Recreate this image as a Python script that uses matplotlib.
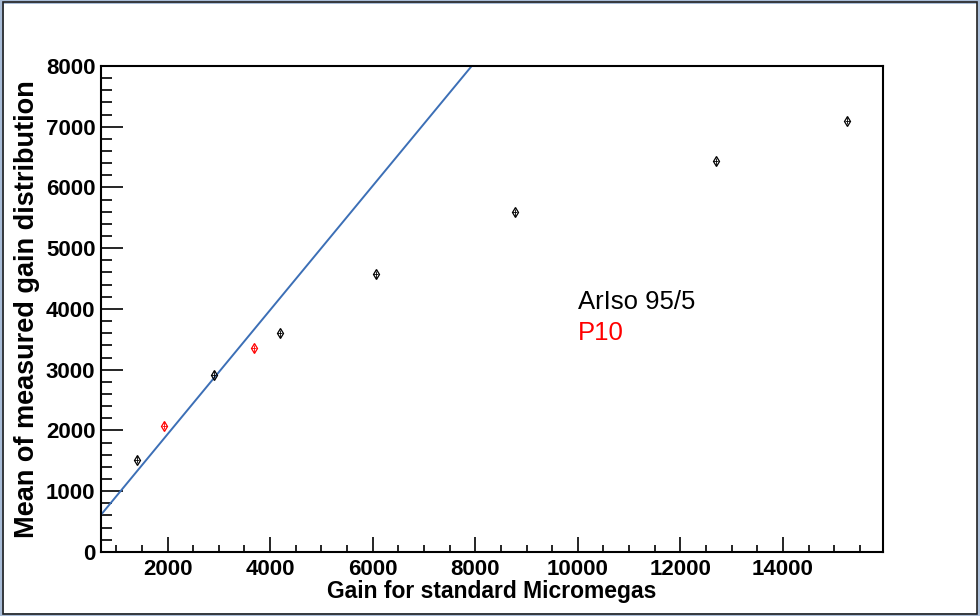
import matplotlib.pyplot as plt
from matplotlib.patches import Rectangle
from matplotlib.ticker import MultipleLocator

plt.rcParams['font.family'] = ['Liberation Sans', 'DejaVu Sans']

# ArIso 95/5 (black) and P10 (red) measurements
ariso_gain = [1400, 2900, 4190, 6060, 8770, 12690, 15250]
ariso_mean = [1520, 2920, 3600, 4570, 5590, 6430, 7100]
p10_gain = [1940, 3680]
p10_mean = [2080, 3350]

# straight line fit
fit_slope = 1.022
fit_offset = -107
fit_range = [700, 8100]

fig = plt.figure(figsize=(9.8, 6.16), dpi=100)
ax = fig.add_axes([0.103, 0.104, 0.798, 0.789])

fit_y = [fit_slope * x + fit_offset for x in fit_range]
ax.plot(fit_range, fit_y, color='#3c6fb6', lw=1.4)

ax.errorbar(ariso_gain, ariso_mean, yerr=60, xerr=50, fmt='d', mfc='none', mec='black',
            ecolor='black', elinewidth=0.6, capsize=0, ms=5.5, mew=0.9)
ax.errorbar(p10_gain, p10_mean, yerr=60, xerr=50, fmt='d', mfc='none', mec='red',
            ecolor='red', elinewidth=0.6, capsize=0, ms=5.5, mew=0.9)

ax.text(10000, 4120, 'ArIso 95/5', fontsize=18.5, color='black', va='center')
ax.text(10000, 3610, 'P10', fontsize=18.5, color='red', va='center')

ax.set_xlim(702, 15950)
ax.set_ylim(0, 8000)
ax.xaxis.set_major_locator(MultipleLocator(2000))
ax.xaxis.set_minor_locator(MultipleLocator(500))
ax.yaxis.set_major_locator(MultipleLocator(1000))
ax.yaxis.set_minor_locator(MultipleLocator(200))
ax.tick_params(axis='both', which='both', direction='in', top=False, right=False, width=1.2)
ax.tick_params(axis='x', which='major', length=11, pad=5)
ax.tick_params(axis='x', which='minor', length=5)
ax.tick_params(axis='y', which='major', length=16, pad=4)
ax.tick_params(axis='y', which='minor', length=8)
for lab in ax.get_xticklabels() + ax.get_yticklabels():
    lab.set_fontweight('bold')
    lab.set_fontsize(16)
for s in ax.spines.values():
    s.set_linewidth(1.5)

ax.set_xlabel('Gain for standard Micromegas', fontsize=16.5, fontweight='bold', labelpad=0)
ax.set_ylabel('Mean of measured gain distribution', fontsize=19.5, fontweight='bold', labelpad=4)

fig.patches.append(Rectangle((0, 0), 1, 1, transform=fig.transFigure, fill=False,
                             edgecolor='#a9bdd8', lw=5))
fig.patches.append(Rectangle((0.003, 0.004), 0.994, 0.992, transform=fig.transFigure,
                             fill=False, edgecolor='#222222', lw=1.2))

fig.savefig('out.png', dpi=100)
